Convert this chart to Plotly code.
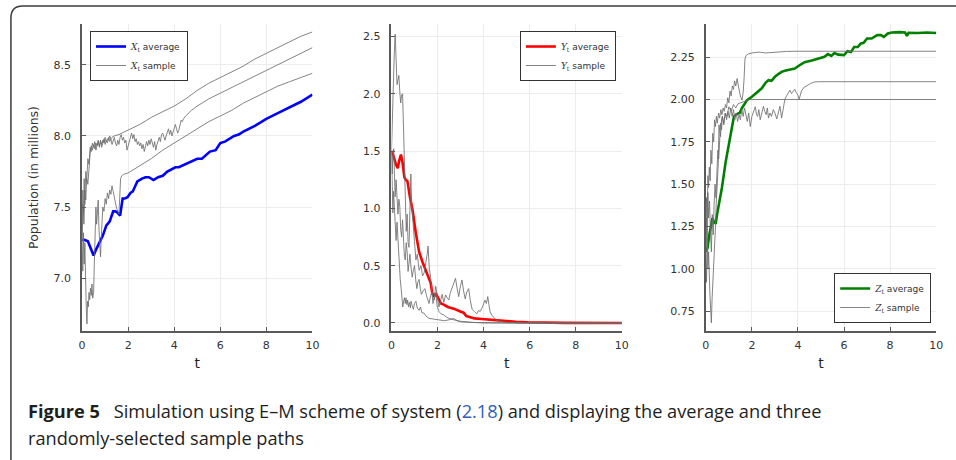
import plotly.graph_objects as go

# ---------------- data: (t, value) pairs read per path ----------------
X_AVERAGE = [(0, 7.27), (0.1, 7.27), (0.25, 7.26), (0.4, 7.20), (0.5, 7.16), (0.6, 7.20), (0.7, 7.23),
             (0.8, 7.26), (0.9, 7.30), (1.05, 7.37), (1.2, 7.40), (1.35, 7.47), (1.45, 7.47), (1.55, 7.46),
             (1.65, 7.44), (1.76, 7.56), (1.85, 7.56), (1.97, 7.57), (2.1, 7.60), (2.2, 7.61), (2.3, 7.64),
             (2.4, 7.68), (2.6, 7.70), (2.75, 7.71), (2.9, 7.71), (3.0, 7.70), (3.1, 7.69), (3.3, 7.71),
             (3.5, 7.72), (3.7, 7.75), (3.9, 7.77), (4.05, 7.78), (4.2, 7.78), (4.45, 7.80), (4.75, 7.82),
             (5.0, 7.84), (5.2, 7.84), (5.4, 7.87), (5.55, 7.89), (5.8, 7.90), (6.0, 7.95), (6.2, 7.96),
             (6.4, 7.98), (6.6, 8.00), (6.8, 8.01), (7.0, 8.03), (7.5, 8.07), (8.0, 8.12), (8.5, 8.16),
             (9.0, 8.20), (9.5, 8.24), (10.0, 8.29)]

X_SAMPLE_1 = [(0, 7.27), (0.04, 7.52), (0.08, 7.38), (0.12, 7.62), (0.16, 7.55), (0.2, 7.70), (0.25, 7.66),
              (0.3, 7.82), (0.35, 7.88), (0.4, 7.93), (0.45, 7.90), (0.5, 7.94), (0.55, 7.91), (0.6, 7.95),
              (0.65, 7.93), (0.7, 7.96), (0.75, 7.92), (0.8, 7.97), (0.85, 7.94), (0.9, 7.97), (0.95, 7.95),
              (1.0, 7.99), (1.05, 7.96), (1.1, 7.98), (1.15, 7.97), (1.2, 8.00), (1.25, 7.98), (1.3, 7.99),
              (1.4, 8.00), (1.6, 8.01), (2.0, 8.04), (2.5, 8.08), (3.0, 8.13), (3.5, 8.17), (4.0, 8.21),
              (4.5, 8.26), (5.0, 8.32), (5.5, 8.37), (6.0, 8.41), (6.5, 8.45), (7.0, 8.49), (7.5, 8.54),
              (8.0, 8.58), (8.5, 8.62), (9.0, 8.66), (9.5, 8.70), (10.0, 8.73)]

X_SAMPLE_2 = [(0, 7.27), (0.03, 7.62), (0.06, 7.45), (0.09, 7.70), (0.12, 7.52), (0.16, 7.75), (0.2, 7.68),
              (0.25, 7.84), (0.3, 7.80), (0.35, 7.92), (0.4, 7.89), (0.45, 7.95), (0.5, 7.92), (0.55, 7.96),
              (0.6, 7.90), (0.65, 7.94), (0.7, 7.97), (0.75, 7.93), (0.8, 7.96), (0.85, 7.92), (0.9, 7.95),
              (0.95, 7.98), (1.0, 7.94), (1.05, 7.97), (1.1, 7.95), (1.15, 7.99), (1.2, 7.96), (1.25, 7.98),
              (1.3, 7.94), (1.35, 7.97), (1.4, 7.99), (1.45, 7.95), (1.5, 7.93), (1.55, 7.97), (1.6, 7.94),
              (1.65, 7.99), (1.7, 8.01), (1.75, 7.97), (1.8, 7.99), (1.85, 7.95), (1.9, 7.97), (1.95, 7.90),
              (2.0, 7.93), (2.05, 7.96), (2.1, 7.99), (2.15, 8.02), (2.2, 7.98), (2.25, 8.01), (2.3, 7.96),
              (2.35, 7.98), (2.4, 7.94), (2.45, 7.96), (2.5, 7.93), (2.55, 7.95), (2.6, 7.91), (2.65, 7.94),
              (2.7, 7.89), (2.75, 7.92), (2.8, 7.96), (2.85, 7.93), (2.9, 7.97), (2.95, 7.94), (3.0, 7.98),
              (3.05, 7.95), (3.1, 7.92), (3.15, 7.96), (3.2, 7.90), (3.25, 7.94), (3.3, 7.97), (3.35, 7.99),
              (3.4, 7.96), (3.45, 8.01), (3.5, 8.02), (3.55, 7.99), (3.6, 7.97), (3.65, 8.00), (3.7, 8.03),
              (3.75, 8.05), (3.8, 8.01), (3.85, 8.04), (3.9, 8.00), (3.95, 8.03), (4.0, 8.06), (4.05, 8.08),
              (4.1, 8.05), (4.15, 8.02), (4.2, 8.04), (4.25, 8.08), (4.3, 8.11), (4.35, 8.10), (4.4, 8.12),
              (4.5, 8.14), (4.75, 8.18), (5.0, 8.21), (5.5, 8.26), (6.0, 8.30), (6.5, 8.34), (7.0, 8.38),
              (7.5, 8.42), (8.0, 8.46), (8.5, 8.50), (9.0, 8.54), (9.5, 8.58), (10.0, 8.62)]

X_SAMPLE_3 = [(0, 7.27), (0.03, 7.05), (0.06, 7.32), (0.09, 7.10), (0.12, 7.25), (0.15, 6.92), (0.18, 6.80),
              (0.21, 6.68), (0.24, 6.84), (0.27, 6.80), (0.3, 6.90), (0.33, 6.85), (0.36, 6.93), (0.4, 6.88),
              (0.43, 6.96), (0.46, 6.86), (0.5, 6.90), (0.53, 7.10), (0.56, 7.32), (0.6, 7.50), (0.63, 7.38),
              (0.66, 7.46), (0.7, 7.55), (0.73, 7.36), (0.77, 7.25), (0.8, 7.15), (0.83, 7.28), (0.87, 7.42),
              (0.9, 7.50), (0.95, 7.47), (1.0, 7.56), (1.05, 7.52), (1.1, 7.60), (1.15, 7.56), (1.2, 7.62),
              (1.25, 7.59), (1.3, 7.65), (1.35, 7.61), (1.4, 7.57), (1.45, 7.52), (1.5, 7.49), (1.55, 7.47),
              (1.6, 7.45), (1.63, 7.55), (1.67, 7.70), (1.72, 7.72), (1.8, 7.73), (2.0, 7.74), (2.5, 7.79),
              (3.0, 7.84), (3.5, 7.90), (4.0, 7.95), (4.5, 8.00), (5.0, 8.05), (5.5, 8.10), (6.0, 8.14),
              (6.5, 8.18), (7.0, 8.23), (7.5, 8.27), (8.0, 8.31), (8.5, 8.35), (9.0, 8.38), (9.5, 8.41),
              (10.0, 8.44)]

Y_AVERAGE = [(0, 1.50), (0.1, 1.45), (0.2, 1.38), (0.27, 1.35), (0.34, 1.42), (0.41, 1.47), (0.48, 1.40),
             (0.56, 1.27), (0.62, 1.25), (0.69, 1.24), (0.8, 1.10), (0.92, 0.98), (1.06, 0.78), (1.2, 0.62),
             (1.35, 0.53), (1.49, 0.45), (1.6, 0.40), (1.7, 0.35), (1.77, 0.26), (1.85, 0.23), (1.92, 0.26),
             (2.06, 0.20), (2.15, 0.17), (2.27, 0.16), (2.45, 0.14), (2.7, 0.125), (2.85, 0.11), (2.99, 0.10),
             (3.13, 0.09), (3.25, 0.06), (3.35, 0.055), (3.6, 0.04), (3.92, 0.035), (4.2, 0.03), (4.49, 0.025),
             (4.8, 0.02), (5.06, 0.017), (5.4, 0.01), (5.92, 0.006), (6.5, 0.003), (7.5, 0.001), (10.0, 0.0)]

Y_SAMPLE_1 = [(0, 1.50), (0.04, 1.85), (0.08, 2.20), (0.12, 2.35), (0.16, 2.52), (0.2, 2.30), (0.24, 2.08),
              (0.28, 2.12), (0.32, 2.16), (0.36, 2.02), (0.4, 1.92), (0.44, 1.99), (0.48, 2.00), (0.52, 1.72),
              (0.56, 1.45), (0.6, 1.12), (0.64, 0.80), (0.68, 0.95), (0.72, 0.70), (0.76, 0.66), (0.8, 1.05),
              (0.84, 1.30), (0.88, 1.02), (0.92, 0.90), (0.97, 0.78), (1.02, 0.66), (1.06, 0.55), (1.12, 0.60),
              (1.2, 0.46), (1.28, 0.50), (1.35, 0.41), (1.42, 0.44), (1.5, 0.52), (1.55, 0.60), (1.59, 0.67),
              (1.64, 0.48), (1.7, 0.40), (1.75, 0.25), (1.8, 0.17), (1.86, 0.22), (1.92, 0.26), (1.98, 0.15),
              (2.06, 0.10), (2.15, 0.08), (2.27, 0.07), (2.4, 0.05), (2.5, 0.04), (2.75, 0.025), (3.0, 0.015),
              (3.5, 0.005), (4.0, 0.0), (10.0, 0.0)]

Y_SAMPLE_2 = [(0, 1.50), (0.03, 1.22), (0.06, 0.96), (0.09, 1.15), (0.12, 1.02), (0.16, 0.80), (0.2, 0.72),
              (0.24, 0.88), (0.28, 0.70), (0.31, 0.55), (0.34, 0.46), (0.38, 0.38), (0.42, 0.30), (0.46, 0.20),
              (0.49, 0.14), (0.53, 0.19), (0.56, 0.22), (0.6, 0.17), (0.63, 0.22), (0.67, 0.16), (0.7, 0.20),
              (0.74, 0.14), (0.78, 0.18), (0.82, 0.13), (0.85, 0.19), (0.9, 0.15), (0.95, 0.12), (1.0, 0.17),
              (1.06, 0.19), (1.12, 0.13), (1.2, 0.11), (1.26, 0.14), (1.32, 0.09), (1.42, 0.085), (1.5, 0.06),
              (1.63, 0.04), (1.8, 0.035), (2.06, 0.03), (2.3, 0.02), (2.55, 0.03), (2.7, 0.04), (2.85, 0.02),
              (3.0, 0.01), (3.5, 0.005), (4.0, 0.003), (5.0, 0.0), (10.0, 0.0)]

Y_SAMPLE_3 = [(0, 1.50), (0.03, 1.30), (0.06, 1.48), (0.1, 1.52), (0.13, 1.28), (0.16, 1.10), (0.2, 1.25),
              (0.24, 1.05), (0.28, 0.95), (0.32, 1.08), (0.36, 1.02), (0.4, 0.82), (0.44, 0.75), (0.48, 0.90),
              (0.52, 0.72), (0.56, 0.58), (0.6, 0.55), (0.64, 0.70), (0.68, 0.62), (0.72, 0.45), (0.76, 0.52),
              (0.8, 0.60), (0.85, 0.48), (0.9, 0.40), (0.95, 0.46), (1.0, 0.50), (1.05, 0.38), (1.1, 0.30),
              (1.15, 0.36), (1.2, 0.38), (1.25, 0.30), (1.3, 0.25), (1.37, 0.28), (1.45, 0.30), (1.52, 0.24),
              (1.58, 0.20), (1.63, 0.17), (1.7, 0.24), (1.75, 0.27), (1.8, 0.22), (1.85, 0.20), (1.92, 0.32),
              (1.98, 0.22), (2.06, 0.14), (2.13, 0.19), (2.2, 0.25), (2.27, 0.18), (2.35, 0.245), (2.42, 0.22),
              (2.49, 0.20), (2.55, 0.26), (2.62, 0.30), (2.7, 0.35), (2.78, 0.39), (2.85, 0.30), (2.92, 0.23),
              (2.99, 0.32), (3.06, 0.375), (3.13, 0.28), (3.2, 0.21), (3.27, 0.27), (3.35, 0.30), (3.42, 0.20),
              (3.5, 0.12), (3.6, 0.10), (3.7, 0.08), (3.78, 0.11), (3.85, 0.10), (3.95, 0.14), (4.06, 0.20),
              (4.12, 0.17), (4.18, 0.23), (4.23, 0.16), (4.28, 0.10), (4.35, 0.07), (4.42, 0.05), (4.5, 0.035),
              (4.6, 0.02), (4.8, 0.01), (5.0, 0.005), (6.0, 0.0), (10.0, 0.0)]

Z_AVERAGE = [(0, 1.10), (0.07, 1.12), (0.15, 1.20), (0.22, 1.25), (0.29, 1.30), (0.36, 1.27), (0.43, 1.27),
             (0.5, 1.33), (0.6, 1.40), (0.7, 1.48), (0.86, 1.63), (1.05, 1.78), (1.22, 1.90), (1.36, 1.915),
             (1.47, 1.92), (1.57, 1.95), (1.68, 1.97), (1.79, 1.996), (2.0, 2.016), (2.2, 2.04), (2.43, 2.066),
             (2.6, 2.10), (2.72, 2.114), (2.85, 2.11), (3.0, 2.134), (3.15, 2.15), (3.29, 2.163), (3.43, 2.17),
             (3.65, 2.175), (3.86, 2.183), (4.1, 2.205), (4.29, 2.22), (4.6, 2.23), (4.86, 2.24), (5.0, 2.245),
             (5.15, 2.252), (5.3, 2.268), (5.45, 2.258), (5.58, 2.275), (5.75, 2.265), (6.0, 2.262),
             (6.15, 2.285), (6.3, 2.28), (6.44, 2.31), (6.6, 2.31), (6.72, 2.33), (6.85, 2.335), (7.0, 2.36),
             (7.2, 2.36), (7.44, 2.38), (7.6, 2.38), (7.73, 2.37), (7.9, 2.39), (8.08, 2.396), (8.4, 2.398),
             (8.65, 2.396), (8.73, 2.375), (8.8, 2.394), (9.2, 2.393), (9.6, 2.396), (10.0, 2.393)]

Z_SAMPLE_1 = [(0, 1.10), (0.03, 1.42), (0.06, 1.30), (0.09, 1.55), (0.12, 1.48), (0.15, 1.60), (0.19, 1.52),
              (0.22, 1.70), (0.26, 1.62), (0.3, 1.80), (0.34, 1.75), (0.38, 1.88), (0.42, 1.84), (0.46, 1.90),
              (0.5, 1.86), (0.55, 1.92), (0.6, 1.89), (0.65, 1.94), (0.7, 1.91), (0.75, 1.95), (0.8, 1.93),
              (0.85, 1.97), (0.9, 1.95), (0.95, 2.01), (1.0, 1.98), (1.05, 2.05), (1.1, 2.02), (1.15, 2.08),
              (1.2, 2.06), (1.25, 2.11), (1.3, 2.08), (1.36, 2.124), (1.4, 2.09), (1.45, 2.05), (1.5, 2.02),
              (1.57, 1.996), (1.62, 2.04), (1.66, 2.12), (1.7, 2.24), (1.75, 2.26), (1.85, 2.27), (2.0, 2.275),
              (2.3, 2.28), (2.6, 2.275), (3.0, 2.28), (3.5, 2.284), (4.0, 2.285), (10.0, 2.285)]

Z_SAMPLE_2 = [(0, 1.10), (0.03, 0.92), (0.06, 1.18), (0.09, 1.00), (0.12, 1.10), (0.15, 0.90), (0.18, 0.84),
              (0.21, 0.76), (0.24, 0.68), (0.27, 0.82), (0.3, 0.90), (0.33, 0.98), (0.36, 1.02), (0.39, 1.12),
              (0.42, 1.25), (0.45, 1.38), (0.48, 1.45), (0.51, 1.55), (0.54, 1.62), (0.57, 1.85), (0.6, 1.80),
              (0.64, 1.78), (0.68, 1.88), (0.72, 1.90), (0.78, 1.86), (0.85, 1.92), (0.92, 1.90), (1.0, 1.957),
              (1.1, 1.93), (1.2, 1.97), (1.3, 1.95), (1.4, 1.975), (1.5, 1.98), (1.6, 1.985), (1.72, 1.99),
              (1.9, 2.0), (10.0, 2.0)]

Z_SAMPLE_3 = [(0, 1.10), (0.03, 1.30), (0.06, 1.15), (0.09, 1.45), (0.12, 1.30), (0.16, 1.40), (0.2, 1.22),
              (0.24, 1.10), (0.28, 1.32), (0.32, 1.20), (0.36, 1.38), (0.4, 1.50), (0.44, 1.42), (0.48, 1.58),
              (0.52, 1.70), (0.56, 1.65), (0.6, 1.80), (0.64, 1.86), (0.68, 1.82), (0.72, 1.90), (0.78, 1.85),
              (0.84, 1.92), (0.9, 1.88), (0.96, 1.93), (1.02, 1.89), (1.08, 1.95), (1.14, 1.90), (1.2, 1.94),
              (1.26, 1.88), (1.32, 1.92), (1.38, 1.87), (1.44, 1.91), (1.5, 1.88), (1.56, 1.94), (1.62, 1.90),
              (1.68, 1.95), (1.74, 1.91), (1.8, 1.87), (1.86, 1.92), (1.93, 1.84), (2.0, 1.90), (2.07, 1.93),
              (2.15, 1.957), (2.2, 1.91), (2.25, 1.90), (2.3, 1.94), (2.36, 1.88), (2.43, 1.92), (2.5, 1.96),
              (2.56, 1.93), (2.62, 1.91), (2.67, 1.95), (2.72, 1.89), (2.78, 1.92), (2.85, 1.90), (2.93, 1.94),
              (3.0, 1.92), (3.08, 1.885), (3.15, 1.93), (3.22, 1.96), (3.29, 1.89), (3.36, 1.95), (3.43, 2.00),
              (3.5, 2.02), (3.58, 2.04), (3.65, 2.055), (3.72, 2.035), (3.79, 2.05), (3.86, 2.06), (3.93, 2.04),
              (4.0, 2.026), (4.05, 2.0), (4.1, 2.03), (4.15, 2.05), (4.25, 2.07), (4.35, 2.08), (4.43, 2.085),
              (4.55, 2.095), (4.72, 2.104), (5.0, 2.105), (10.0, 2.105)]

X_TICKS = [0, 2, 4, 6, 8, 10]
Y_LABEL = "Population (in millions)"
CAPTION_1 = ("<b>Figure 5</b>\u2002 Simulation using E\u2013M scheme of system "
             "(<span style='color:#2f5fb8'>2.18</span>) and displaying the average and three")
CAPTION_2 = "randomly-selected sample paths"

PANELS = [
    # (variable letter, average path, sample paths, colour, y range, y step, y format)
    ("X", X_AVERAGE, [X_SAMPLE_1, X_SAMPLE_2, X_SAMPLE_3], "#0000ff", [6.630, 8.786], 0.5, ".1f"),
    ("Y", Y_AVERAGE, [Y_SAMPLE_1, Y_SAMPLE_2, Y_SAMPLE_3], "#ff0000", [-0.070, 2.609], 0.5, ".1f"),
    ("Z", Z_AVERAGE, [Z_SAMPLE_1, Z_SAMPLE_2, Z_SAMPLE_3], "#008000", [0.632, 2.446], 0.25, ".2f"),
]

W, H = 956, 460
X_DOMAINS = [(79, 312), (392, 625), (710, 943)]
PLOT_TOP, PLOT_BOTTOM = 24, 331
TICK_FONT = dict(family="DejaVu Sans", size=11, color="#333")

fig = go.Figure()

for i, (letter, avg, samples, colour, yrange, ystep, yfmt) in enumerate(PANELS):
    suffix = "" if i == 0 else str(i + 1)
    legend_id = "legend" if i == 0 else f"legend{i + 1}"
    sym = f"<span style='font-family:DejaVu Serif'><i>{letter}</i><sub>t</sub></span>"

    t, v = zip(*avg)
    fig.add_trace(go.Scatter(
        x=t, y=v, mode="lines", name=f"{sym} average",
        line=dict(color=colour, width=2.6),
        xaxis="x" + suffix, yaxis="y" + suffix, legend=legend_id))
    for k, path in enumerate(samples):
        t, v = zip(*path)
        fig.add_trace(go.Scatter(
            x=t, y=v, mode="lines", name=f"{sym} sample",
            line=dict(color="rgba(110,110,110,0.85)", width=1),
            showlegend=(k == 0), legendgroup=f"s{letter}",
            xaxis="x" + suffix, yaxis="y" + suffix, legend=legend_id))

    x0, x1 = X_DOMAINS[i]
    axis_common = dict(
        showline=True, linecolor="#5a5a5a", linewidth=1.6,
        ticks="inside", ticklen=4, tickwidth=1, tickcolor="#5a5a5a",
        showgrid=True, gridcolor="#ececec", gridwidth=1, zeroline=False,
        tickfont=TICK_FONT,
    )
    yaxis = dict(
        domain=[1 - PLOT_BOTTOM / H, 1 - PLOT_TOP / H], range=yrange,
        dtick=ystep, tick0=0, tickformat=yfmt,
        anchor="x" + suffix, ticklabelstandoff=7,
        **axis_common)
    if i == 0:
        yaxis["title"] = dict(text=Y_LABEL, font=dict(family="DejaVu Sans", size=12.5, color="#333"),
                              standoff=12)
    fig.update_layout(**{
        "xaxis" + suffix: dict(
            domain=[x0 / W, x1 / W], range=[0, 10], tickvals=X_TICKS,
            anchor="y" + suffix, ticklabelstandoff=3,
            title=dict(text="t", font=dict(family="DejaVu Sans", size=14, color="#222"), standoff=7),
            **axis_common),
        "yaxis" + suffix: yaxis,
    })

legend_common = dict(
    bgcolor="white", bordercolor="#333", borderwidth=1,
    font=dict(family="DejaVu Sans", size=9, color="#333"),
    itemwidth=30, tracegroupgap=0,
)
fig.update_layout(
    legend=dict(x=87 / W, y=1 - 31 / H, xanchor="left", yanchor="top", **legend_common),
    legend2=dict(x=619 / W, y=1 - 31 / H, xanchor="right", yanchor="top", **legend_common),
    legend3=dict(x=938 / W, y=1 - 323 / H, xanchor="right", yanchor="bottom", **legend_common),
)

# caption under the panels
cap_font = dict(family="Open Sans", size=18.2, color="#1e1e1e")
fig.add_annotation(text=CAPTION_1, xref="paper", yref="paper", x=22 / W, y=1 - 411 / H,
                   xanchor="left", yanchor="middle", showarrow=False, font=cap_font)
fig.add_annotation(text=CAPTION_2, xref="paper", yref="paper", x=22 / W, y=1 - 438 / H,
                   xanchor="left", yanchor="middle", showarrow=False, font=cap_font)

# rounded frame around the figure (top-left corner)
fx, fy, rx, ry = 7 / W, 1 - 6 / H, 12 / W, 12 / H
fig.add_shape(type="path", xref="paper", yref="paper",
              path=f"M {fx},-0.1 L {fx},{fy - ry} Q {fx},{fy} {fx + rx},{fy} L 1.1,{fy}",
              line=dict(color="#3c3c3c", width=1.5))

fig.update_layout(
    width=W, height=H, margin=dict(l=0, r=0, t=0, b=0),
    paper_bgcolor="white", plot_bgcolor="white",
)

fig.write_html("out.html")
